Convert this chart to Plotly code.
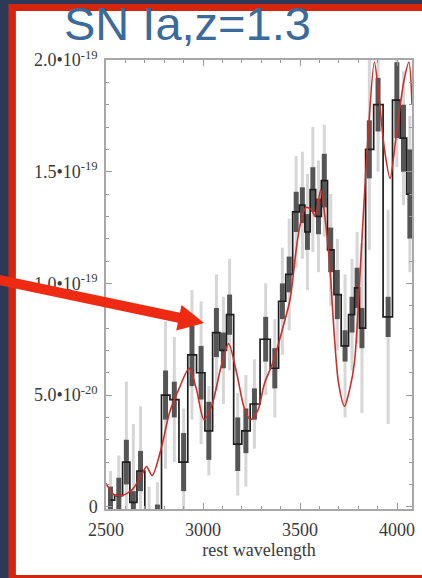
import plotly.graph_objects as go

# Binned SN Ia spectrum (flux in units of 1e-20 erg/s/cm^2/A)
wavelength = [2523, 2566, 2605, 2641, 2678, 2722, 2765, 2807, 2852, 2900,
              2943, 2990, 3030, 3069, 3105, 3137, 3179, 3221, 3265, 3323,
              3370, 3409, 3444, 3480, 3512, 3538, 3566, 3595, 3625, 3658,
              3692, 3732, 3768, 3794, 3819, 3857, 3902, 3954, 3999, 4033, 4066]
flux = [0.3, 0.5, 2.0, 0.2, 1.6, -0.6, -0.4, 5.0, 4.8, 2.0,
        6.8, 6.0, 3.4, 7.8, 7.0, 8.6, 2.8, 3.4, 4.6, 7.5,
        6.2, 9.2, 10.4, 13.2, 13.5, 12.3, 14.2, 13.0, 14.6, 11.5,
        9.5, 7.2, 8.6, 9.8, 8.0, 16.0, 18.0, 8.5, 18.2, 16.5, 14.0]
err_1sigma = [0.6, 0.8, 1.0, 0.5, 0.9, 0.5, 0.5, 1.1, 0.8, 1.3,
              1.4, 1.2, 1.3, 1.1, 0.8, 0.9, 1.2, 1.0, 0.7, 1.0,
              0.9, 0.8, 0.8, 0.9, 0.8, 0.8, 1.0, 0.8, 1.2, 1.0,
              1.1, 0.7, 0.8, 0.9, 0.9, 1.3, 1.2, 0.9, 1.7, 1.5, 2.0]
err_2sigma = [1.3, 1.8, 3.6, 3.5, 2.9, 1.5, 1.5, 3.3, 2.8, 2.4,
              2.9, 3.2, 2.0, 2.6, 2.4, 2.5, 2.3, 2.5, 2.0, 2.5,
              2.2, 2.4, 2.5, 2.5, 2.4, 2.6, 2.8, 2.5, 2.5, 2.5,
              2.5, 3.2, 2.5, 2.5, 3.8, 4.5, 3.0, 4.8, 3.0, 3.0, 3.5]

# Template SN Ia model spectrum
model_wavelength = [2500, 2540, 2579, 2609, 2639, 2688, 2709, 2738, 2787, 2827,
                    2877, 2929, 2965, 3005, 3044, 3094, 3132, 3173, 3213, 3245,
                    3282, 3316, 3362, 3411, 3449, 3480, 3500, 3530, 3559, 3577,
                    3607, 3628, 3653, 3678, 3699, 3729, 3757, 3781, 3811, 3846,
                    3883, 3905, 3935, 3964, 3994, 4034, 4061, 4077]
model_flux = [1.05, 0.55, 0.5, 0.6, 0.8, 1.5, 1.8, 1.4, 2.7, 4.2,
              5.3, 6.2, 5.3, 3.9, 4.5, 6.3, 7.3, 6.0, 4.4, 3.9,
              4.3, 5.5, 6.5, 8.0, 9.3, 11.5, 12.6, 13.4, 13.3, 13.0,
              14.2, 13.0, 10.8, 7.5, 5.5, 4.5, 5.3, 6.5, 10.7, 16.0,
              19.9, 18.5, 16.0, 14.7, 16.5, 19.0, 19.9, 18.0]

y_tickvals = [0, 5, 10, 15, 20]
y_ticktext = ["0", "5.0\u202210<sup>-20</sup>", "1.0\u202210<sup>-19</sup>",
              "1.5\u202210<sup>-19</sup>", "2.0\u202210<sup>-19</sup>"]
x_tickvals = [2500, 3000, 3500, 4000]

W, H = 422, 578
ML, MR, MT, MB = 106, 7, 60, 69


def paper(px, py):
    """Convert a pixel position on the page to paper coordinates."""
    return (px - ML) / (W - ML - MR), (H - MB - py) / (H - MT - MB)


fig = go.Figure()

fig.add_trace(go.Scatter(
    x=wavelength, y=flux, mode="none",
    error_y=dict(type="data", array=err_2sigma, thickness=3, width=0,
                 color="#d6d6d6"),
    hoverinfo="skip", showlegend=False))
fig.add_trace(go.Scatter(
    x=wavelength, y=flux, mode="none",
    error_y=dict(type="data", array=err_1sigma, thickness=5, width=0,
                 color="#555555"),
    hoverinfo="skip", showlegend=False))
fig.add_trace(go.Scatter(
    x=wavelength, y=flux, mode="lines",
    line=dict(color="#1e1e1e", width=1.7, shape="hvh"),
    showlegend=False))
fig.add_trace(go.Scatter(
    x=model_wavelength, y=model_flux, mode="lines",
    line=dict(color="#c8302a", width=1.6, shape="spline", smoothing=0.8),
    showlegend=False))

shapes = []
# slide frame: red border on the navy background, white panel inside
x0, y0 = paper(7.5, 4)
x1, y1 = paper(440, 590)
shapes.append(dict(type="rect", xref="paper", yref="paper", x0=x0, y0=y0,
                   x1=x1, y1=y1, fillcolor="#d5250d", line_width=0,
                   layer="below"))
x0, y0 = paper(15, 11)
x1, y1 = paper(440, 575)
shapes.append(dict(type="rect", xref="paper", yref="paper", x0=x0, y0=y0,
                   x1=x1, y1=y1, fillcolor="#ffffff", line_width=0,
                   layer="below"))

# red pointer arrow
sx, sy = paper(-6, 279)
bx, by = paper(181, 318)
shapes.append(dict(type="line", xref="paper", yref="paper", x0=sx, y0=sy,
                   x1=bx, y1=by, line=dict(color="#ee2a12", width=10),
                   layer="above"))
tip = paper(205, 323)
c1 = paper(176.9, 330.6)
c2 = paper(182.3, 305.0)
shapes.append(dict(type="path", xref="paper", yref="paper",
                   path=f"M {tip[0]} {tip[1]} L {c1[0]} {c1[1]} L {c2[0]} {c2[1]} Z",
                   fillcolor="#ee2a12", line_width=0, layer="above"))

tx, ty = paper(62, 23.5)
fig.update_layout(
    width=W, height=H,
    margin=dict(l=ML, r=MR, t=MT, b=MB),
    paper_bgcolor="#2c3a58",
    plot_bgcolor="#ffffff",
    shapes=shapes,
    annotations=[dict(text="SN Ia,z=1.3", xref="paper", yref="paper",
                      x=tx, y=ty, xanchor="left", yanchor="middle",
                      showarrow=False,
                      font=dict(family="Liberation Sans, Arial", size=47,
                                color="#3b6b9b"))],
    font=dict(family="Liberation Serif, Times New Roman, serif", size=18,
              color="#3a3a3a"),
)

axis_common = dict(showline=True, linecolor="#a8a8a8", linewidth=1.5,
                   mirror="ticks", ticks="inside", ticklen=6, tickwidth=1.2,
                   tickcolor="#999999", showgrid=False, zeroline=False)

fig.update_xaxes(range=[2500, 4077], tickvals=x_tickvals,
                 minor=dict(dtick=100, tick0=2500, ticks="inside", ticklen=3.5,
                            tickcolor="#999999", tickwidth=1),
                 title=dict(text="rest wavelength", standoff=2,
                            font=dict(size=18)),
                 ticklabelstandoff=4, **axis_common)
fig.update_yaxes(range=[-0.1, 20.0], tickvals=y_tickvals, ticktext=y_ticktext,
                 minor=dict(dtick=1, tick0=0, ticks="inside", ticklen=3.5,
                            tickcolor="#999999", tickwidth=1),
                 ticklabelstandoff=3, **axis_common)

fig.write_html("out.html")
